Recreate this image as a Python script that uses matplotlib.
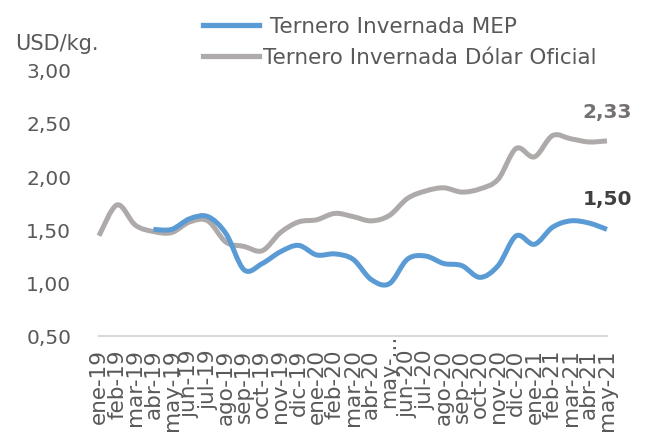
import numpy as np
import matplotlib
matplotlib.use("Agg")
import matplotlib.pyplot as plt
from matplotlib.path import Path
from matplotlib.patches import PathPatch
from matplotlib.lines import Line2D

# datos (USD/kg)
meses = ["ene", "feb", "mar", "abr", "may", "jun", "jul", "ago", "sep", "oct", "nov", "dic"]
etiquetas = [f"{m}-{a}" for a in ("19", "20") for m in meses] + [f"{m}-21" for m in meses[:5]]

mep = [np.nan, np.nan, np.nan, 1.50, 1.50, 1.60, 1.62, 1.46, 1.12, 1.18, 1.29, 1.35, 1.26, 1.27,
       1.22, 1.03, 0.99, 1.22, 1.25, 1.18, 1.16, 1.05, 1.16, 1.44, 1.36, 1.52, 1.58, 1.56, 1.50]
oficial = [1.44, 1.73, 1.54, 1.48, 1.47, 1.57, 1.58, 1.38, 1.34, 1.30, 1.47, 1.57, 1.59, 1.65,
           1.62, 1.58, 1.63, 1.79, 1.86, 1.89, 1.85, 1.88, 1.97, 2.26, 2.18, 2.38, 2.35, 2.32, 2.33]

AZUL = "#5B9BD5"
GRIS = "#AEAAAA"
TEXTO = "#595959"

plt.rcParams['font.family'] = ['DejaVu Sans']


def curva_suave(x, y):
    """Path tipo Excel (línea suavizada) a partir de los puntos."""
    pts = np.array([(a, b) for a, b in zip(x, y) if not np.isnan(b)])
    verts = [pts[0]]
    codes = [Path.MOVETO]
    n = len(pts)
    for i in range(n - 1):
        p0 = pts[max(i - 1, 0)]
        p1 = pts[i]
        p2 = pts[i + 1]
        p3 = pts[min(i + 2, n - 1)]
        verts += [p1 + (p2 - p0) / 6, p2 - (p3 - p1) / 6, p2]
        codes += [Path.CURVE4] * 3
    return Path(verts, codes)


fig = plt.figure(figsize=(6.5, 4.35), dpi=100)
ax = fig.add_axes([0.1523, 0.2253, 0.7815, 0.6127])

x = np.arange(len(etiquetas))
for serie, color in ((oficial, GRIS), (mep, AZUL)):
    ax.add_patch(PathPatch(curva_suave(x, serie), fill=False, edgecolor=color,
                           lw=3.6, capstyle='butt', joinstyle='round', clip_on=False))

ax.set_xlim(0, len(etiquetas) - 1)
ax.set_ylim(0.5, 3.0)
ax.set_yticks([0.5, 1.0, 1.5, 2.0, 2.5, 3.0])
ax.set_yticklabels([f"{v:.2f}".replace(".", ",") for v in ax.get_yticks()])
ax.set_xticks(x)
# la etiqueta de may-20 sale truncada en el original
visibles = ["" if i == 16 else e for i, e in enumerate(etiquetas)]
ax.set_xticklabels(visibles, rotation=90)
ax.tick_params(axis='y', length=0, pad=20, labelsize=14.5, labelcolor=TEXTO)
ax.tick_params(axis='x', length=0, pad=9, labelsize=15.5, labelcolor=TEXTO)
ax.annotate("may-\u2026", (16, 0.5), xytext=(0, 2), textcoords='offset points',
            rotation=90, ha='center', va='top', fontsize=15, color=TEXTO,
            annotation_clip=False)
for s in ("top", "right", "left"):
    ax.spines[s].set_visible(False)
ax.spines["bottom"].set_color("#D9D9D9")
ax.spines["bottom"].set_linewidth(1.5)

# valores finales
ax.annotate("2,33", (x[-1], oficial[-1]), xytext=(0, 21), textcoords='offset points',
            ha='center', va='center', fontsize=14.5, fontweight='bold', color="#767171",
            annotation_clip=False)
ax.annotate("1,50", (x[-1], mep[-1]), xytext=(0, 22), textcoords='offset points',
            ha='center', va='center', fontsize=14.5, fontweight='bold', color="#404040",
            annotation_clip=False)

fig.text(0.023, 0.9, "USD/kg.", fontsize=15, color=TEXTO, va='center')

handles = [Line2D([], [], color=AZUL, lw=3.8), Line2D([], [], color=GRIS, lw=3.8)]
fig.legend(handles, [" Ternero Invernada MEP", "Ternero Invernada Dólar Oficial"],
           loc='upper left', bbox_to_anchor=(0.312, 0.96), frameon=False, fontsize=15.5,
           labelcolor=TEXTO, handlelength=2.6, handletextpad=0.2, labelspacing=0.5,
           borderpad=0, borderaxespad=0)

fig.savefig("out.png", dpi=100)
